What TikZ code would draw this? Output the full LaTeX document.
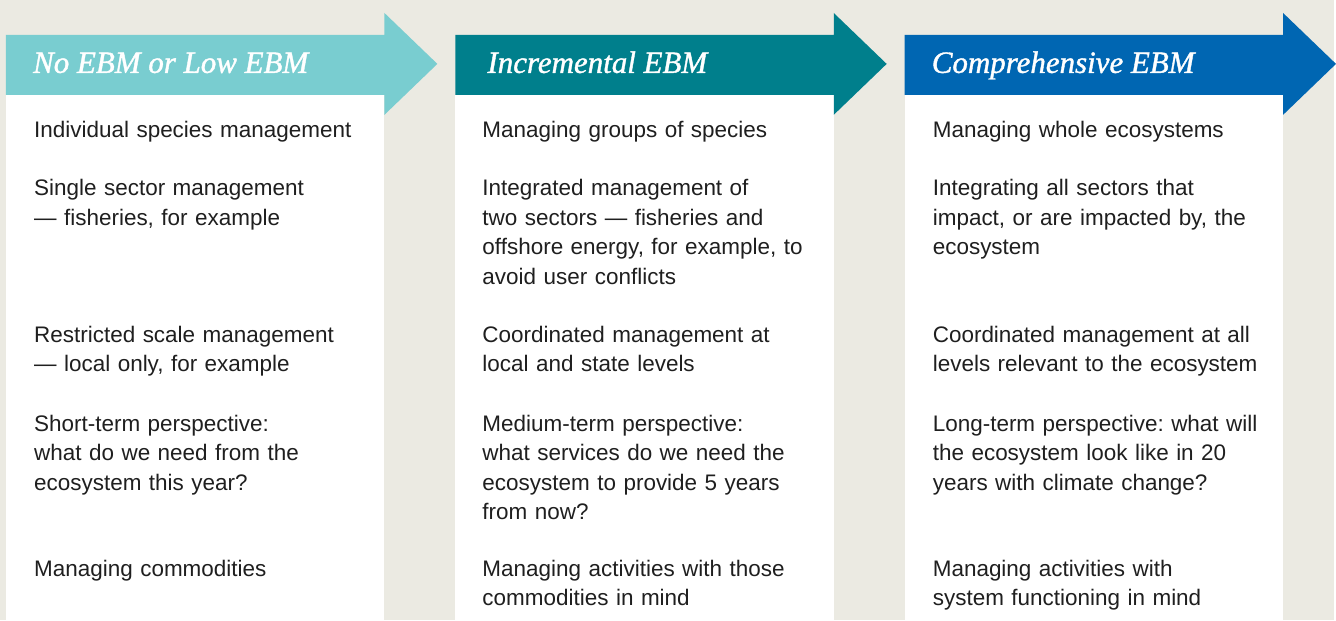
\documentclass[tikz,border=0pt]{standalone}
\usepackage{fontspec}
\setmainfont{Liberation Sans}
\newfontfamily\headfont[ItalicFeatures={FakeBold=1.2}]{Liberation Serif}
\frenchspacing
\definecolor{bgtan}{HTML}{EBEAE2}
\definecolor{lowebm}{HTML}{79CDD0}
\definecolor{incebm}{HTML}{007F8C}
\definecolor{compebm}{HTML}{0066B2}
\tikzset{
  head/.style={anchor=base west, inner sep=0pt, text=white,
    font=\headfont\itshape\fontsize{31}{36}\selectfont},
  body/.style={anchor=base west, inner sep=0pt, align=left, text width=345pt,
    text=black!88, font=\fontsize{22.5}{29.5}\selectfont},
}

\begin{document}
\begin{tikzpicture}[x=1pt,y=-1pt]
    \pgfmathsetmacro{\w}{379}
    \pgfmathsetmacro{\tip}{53}

    \fill[bgtan] (0,0) rectangle (1336,621);
    \foreach \i/\col in {0/lowebm,1/incebm,2/compebm}{
        \pgfmathsetmacro{\l}{6+450*\i}
        \pgfmathsetmacro{\r}{\l+\w}
        \fill[white] (\l,95) rectangle (\r,621);
        \fill[\col] (\l,35) -- (\r,35) -- (\r,13) -- (\r+\tip,64)
            -- (\r,115) -- (\r,95) -- (\l,95) -- cycle;
    }

    \node[head] (lowh) at (33,73) {No EBM or Low EBM};
    \node[head] (inch) at (488,73) {Incremental EBM};
    \node[head] (comph) at (933,73) {Comprehensive EBM};

    % no or low EBM
    \node[body] (low1) at (34,138) {Individual species management};
    \node[body] (low2) at (34,196) {Single sector management\\— fisheries, for example};
    \node[body] (low3) at (34,343) {Restricted scale management\\— local only, for example};
    \node[body] (low4) at (34,432) {Short-term perspective:\\what do we need from the\\ecosystem this year?};
    \node[body] (low5) at (34,577) {Managing commodities};

    % incremental EBM
    \node[body] (inc1) at (483,138) {Managing groups of species};
    \node[body] (inc2) at (483,196) {Integrated management of\\two sectors — fisheries and\\offshore energy, for example, to\\avoid user conflicts};
    \node[body] (inc3) at (483,343) {Coordinated management at\\local and state levels};
    \node[body] (inc4) at (483,432) {Medium-term perspective:\\what services do we need the\\ecosystem to provide 5 years\\from now?};
    \node[body] (inc5) at (483,577) {Managing activities with those\\commodities in mind};

    % comprehensive EBM
    \node[body] (comp1) at (934,138) {Managing whole ecosystems};
    \node[body] (comp2) at (934,196) {Integrating all sectors that\\impact, or are impacted by, the\\ecosystem};
    \node[body] (comp3) at (934,343) {Coordinated management at all\\levels relevant to the ecosystem};
    \node[body] (comp4) at (934,432) {Long-term perspective: what will\\the ecosystem look like in 20\\years with climate change?};
    \node[body] (comp5) at (934,577) {Managing activities with\\system functioning in mind};
\end{tikzpicture}
\end{document}
